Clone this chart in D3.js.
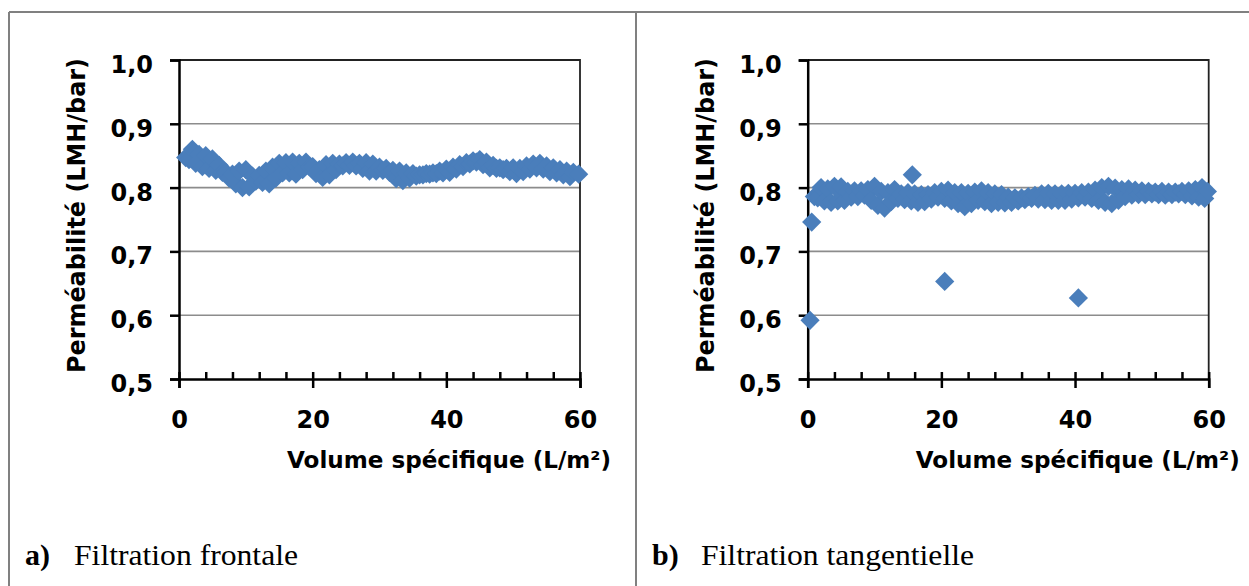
<!DOCTYPE html>
<html><head><meta charset="utf-8">
<script src="https://cdn.jsdelivr.net/npm/d3@7"></script>
<style>body{margin:0;background:#fff}</style>
</head><body><svg id="c" width="1249" height="586"></svg>
<script>
// ---- data ----
const yTicks = [0.5, 0.6, 0.7, 0.8, 0.9, 1.0];
const xTicks = [0, 20, 40, 60];
const xTitle = "Volume spécifique (L/m²)";
const yTitle = "Perméabilité (LMH/bar)";
const captions = [["a)", "Filtration frontale"], ["b)", "Filtration tangentielle"]];

const frontaleX = [1,1.5,2,2.5,3,3.5,4,4.5,5,5.5,6,6.5,7,7.5,8,8.5,9,9.5,10,10.5,11,11.5,12,12.5,13,13.5,14,14.5,15,15.5,16,16.5,17,17.5,18,18.5,19,19.5,20,20.5,21,21.5,22,22.5,23,23.5,24,24.5,25,25.5,26,26.5,27,27.5,28,28.5,29,29.5,30,30.5,31,31.5,32,32.5,33,33.5,34,34.5,35,35.5,36,36.5,37,37.5,38,38.5,39,39.5,40,40.5,41,41.5,42,42.5,43,43.5,44,44.5,45,45.5,46,46.5,47,47.5,48,48.5,49,49.5,50,50.5,51,51.5,52,52.5,53,53.5,54,54.5,55,55.5,56,56.5,57,57.5,58,58.5,59,59.8];
const frontaleY = [.847,.844,.860,.838,.852,.833,.850,.830,.845,.827,.835,.824,.824,.815,.821,.806,.826,.800,.828,.801,.818,.810,.819,.808,.826,.806,.832,.815,.838,.823,.839,.823,.840,.821,.838,.828,.840,.833,.833,.822,.828,.816,.836,.820,.838,.828,.837,.834,.839,.835,.840,.834,.838,.830,.839,.826,.837,.826,.832,.827,.830,.824,.827,.814,.826,.811,.823,.815,.822,.818,.820,.820,.822,.821,.823,.822,.826,.823,.829,.824,.832,.829,.836,.833,.839,.837,.842,.840,.844,.836,.840,.831,.835,.830,.831,.828,.830,.825,.831,.822,.830,.825,.834,.829,.837,.831,.838,.829,.834,.825,.831,.823,.828,.820,.826,.817,.824,.821];

const tangX = [0.35,0.6,15.65,20.5,40.5,1,1.5,2,2.5,3,3.5,4,4.5,5,5.5,6,6.5,7,7.5,8,8.5,9,9.5,10,10.5,11,11.5,12,12.5,13,13.5,14,14.5,15,15.5,16,16.5,17,17.5,18,18.5,19,19.5,20,20.5,21,21.5,22,22.5,23,23.5,24,24.5,25,25.5,26,26.5,27,27.5,28,28.5,29,29.5,30,30.5,31,31.5,32,32.5,33,33.5,34,34.5,35,35.5,36,36.5,37,37.5,38,38.5,39,39.5,40,40.5,41,41.5,42,42.5,43,43.5,44,44.5,45,45.5,46,46.5,47,47.5,48,48.5,49,49.5,50,50.5,51,51.5,52,52.5,53,53.5,54,54.5,55,55.5,56,56.5,57,57.5,58,58.5,59,59.4,59.8];
const tangY = [.592,.746,.820,.653,.627,.786,.784,.800,.779,.798,.777,.802,.779,.801,.780,.794,.785,.795,.786,.795,.788,.797,.780,.802,.772,.794,.768,.792,.778,.797,.783,.790,.781,.792,.779,.790,.777,.789,.778,.789,.782,.792,.785,.794,.783,.796,.779,.792,.775,.792,.770,.791,.775,.793,.780,.795,.778,.792,.775,.790,.777,.789,.776,.785,.777,.784,.779,.784,.781,.786,.783,.788,.782,.790,.781,.791,.780,.790,.780,.790,.780,.791,.782,.791,.784,.792,.785,.793,.783,.796,.780,.800,.777,.802,.775,.799,.780,.797,.786,.798,.788,.796,.789,.795,.789,.794,.790,.793,.789,.794,.788,.793,.789,.793,.790,.794,.789,.795,.787,.797,.785,.800,.783,.794];

// ---- drawing ----
const svg = d3.select("#c");
const FONT = "'DejaVu Sans', sans-serif";
const BLUE = "#4a7ebb";

// table borders
const border = "#808080";
svg.append("line").attr("x1", 9).attr("x2", 1249).attr("y1", 12).attr("y2", 12).attr("stroke", border).attr("stroke-width", 2);
svg.append("line").attr("x1", 9).attr("x2", 9).attr("y1", 12).attr("y2", 586).attr("stroke", border).attr("stroke-width", 2);
svg.append("line").attr("x1", 636).attr("x2", 636).attr("y1", 12).attr("y2", 586).attr("stroke", border).attr("stroke-width", 2);

function panel(left, xs, ys, cap, capX, capW) {
  const top = 60, bottom = 379, width = 401;
  const x = d3.scaleLinear().domain([0, 60]).range([left, left + width]);
  const y = d3.scaleLinear().domain([0.5, 1.0]).range([bottom, top]);
  const g = svg.append("g");

  // gridlines
  g.selectAll(".grid").data(yTicks.filter(v => v > 0.55 && v < 0.95)).join("line")
    .attr("x1", x(0)).attr("x2", x(60)).attr("y1", d => y(d)).attr("y2", d => y(d))
    .attr("stroke", "#8c8c8c").attr("stroke-width", 1.6);
  // plot frame top/right
  g.append("path").attr("d", `M${x(0)},${y(1)}H${x(60)}V${y(0.5)}`)
    .attr("fill", "none").attr("stroke", "#222").attr("stroke-width", 1.8);

  // y axis
  const ya = g.append("g").attr("transform", `translate(${x(0)},0)`)
    .call(d3.axisLeft(y).tickValues(yTicks).tickSize(9).tickPadding(17)
      .tickFormat(d => d.toFixed(1).replace(".", ",")));
  ya.selectAll("path,line").attr("stroke", "#000").attr("stroke-width", 2.5);
  ya.selectAll("text").attr("font-family", FONT).attr("font-weight", "bold")
    .attr("font-size", 24).attr("fill", "#000").attr("dy", "0.52em");

  // x axis: minor ticks upward
  const xm = g.append("g").attr("transform", `translate(0,${y(0.5)})`)
    .call(d3.axisTop(x).tickValues(d3.range(0, 61, 4)).tickSize(7).tickFormat(""));
  xm.select("path").remove();
  xm.selectAll("line").attr("stroke", "#000").attr("stroke-width", 2.5);
  // major ticks downward with labels
  const xa = g.append("g").attr("transform", `translate(0,${y(0.5)})`)
    .call(d3.axisBottom(x).tickValues(xTicks).tickSize(9).tickPadding(23));
  xa.selectAll("path,line").attr("stroke", "#000").attr("stroke-width", 2.5);
  xa.selectAll("text").attr("font-family", FONT).attr("font-weight", "bold")
    .attr("font-size", 24).attr("fill", "#000");

  // titles
  g.append("text").attr("x", x(0) + 270).attr("y", 468).attr("text-anchor", "middle")
    .attr("font-family", FONT).attr("font-weight", "bold").attr("font-size", 23)
    .attr("textLength", 324).attr("lengthAdjust", "spacingAndGlyphs").text(xTitle);
  g.append("text").attr("transform", `translate(${x(0) - 94},${215.5}) rotate(-90)`)
    .attr("text-anchor", "middle")
    .attr("font-family", FONT).attr("font-weight", "bold").attr("font-size", 24)
    .attr("textLength", 315).attr("lengthAdjust", "spacingAndGlyphs").text(yTitle);

  // points
  const pts = xs.map((v, i) => [v, ys[i]]);
  const sym = d3.symbol(d3.symbolSquare, 185);
  g.selectAll(".pt").data(pts).join("path")
    .attr("d", sym)
    .attr("transform", d => `translate(${x(d[0])},${y(d[1])}) rotate(45)`)
    .attr("fill", BLUE);

  // caption
  const serif = "'Liberation Serif', 'Times New Roman', serif";
  svg.append("text").attr("x", capX).attr("y", 565).attr("font-family", serif)
    .attr("font-size", 30).attr("font-weight", "bold").attr("fill", "#000").text(cap[0]);
  svg.append("text").attr("x", capX + 49).attr("y", 565).attr("font-family", serif)
    .attr("font-size", 30).attr("fill", "#000")
    .attr("textLength", capW).attr("lengthAdjust", "spacingAndGlyphs").text(cap[1]);
}

panel(179, frontaleX, frontaleY, captions[0], 25, 224);
panel(807.7, tangX, tangY, captions[1], 652, 273);
</script></body></html>
